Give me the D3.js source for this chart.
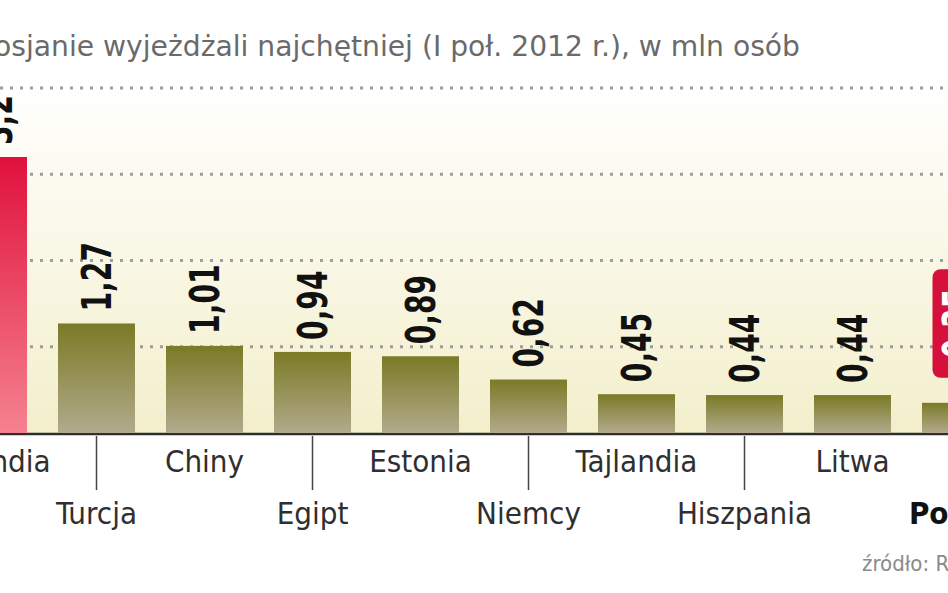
<!DOCTYPE html>
<html><head><meta charset="utf-8">
<script src="https://cdn.jsdelivr.net/npm/d3@7"></script>
<style>
html,body{margin:0;padding:0;background:#fff;overflow:hidden;}
svg{display:block;}
</style></head>
<body>
<svg id="chart" width="948" height="593"></svg>
<script>
const categories = ["Finlandia","Turcja","Chiny","Egipt","Estonia","Niemcy","Tajlandia","Hiszpania","Litwa","Polska"];
const values = [3.2,1.27,1.01,0.94,0.89,0.62,0.45,0.44,0.44,0.35];
const valueLabels = ["3,2","1,27","1,01","0,94","0,89","0,62","0,45","0,44","0,44","0,35"];
const gridTicks = [1,2,3,4];
const title = "Gdzie Rosjanie wyjeżdżali najchętniej (I poł. 2012 r.), w mln osób";
const source = "źródło: Rosstat";
const highlightRed = "Finlandia";
const highlightBox = "Polska";

const W = 948, H = 593;
const svg = d3.select("#chart");
const defs = svg.append("defs");

const bg = defs.append("linearGradient").attr("id","bg").attr("x1",0).attr("y1",0).attr("x2",0).attr("y2",1);
bg.append("stop").attr("offset","0%").attr("stop-color","#ffffff");
bg.append("stop").attr("offset","100%").attr("stop-color","#f3efcc");

const olive = defs.append("linearGradient").attr("id","olive").attr("x1",0).attr("y1",0).attr("x2",0).attr("y2",1);
olive.append("stop").attr("offset","0%").attr("stop-color","#7b7a26");
olive.append("stop").attr("offset","100%").attr("stop-color","#b2aa8c");

const red = defs.append("linearGradient").attr("id","red").attr("x1",0).attr("y1",0).attr("x2",0).attr("y2",1);
red.append("stop").attr("offset","0%").attr("stop-color","#e0113d");
red.append("stop").attr("offset","100%").attr("stop-color","#f5828f");

const y = d3.scaleLinear().domain([0,4]).range([433,88]);
const x = d3.scaleBand().domain(categories).range([-65.5,1014.5]).paddingInner(0.287).paddingOuter(0.1435);

const condFont = '"DejaVu Sans Condensed","DejaVu Sans",sans-serif';
const sansFont = '"DejaVu Sans",sans-serif';

// background
svg.append("rect").attr("x",0).attr("y",y(4)-8).attr("width",W).attr("height",y(0)-y(4)+8).attr("fill","url(#bg)");

// title
svg.append("text").attr("x",800).attr("y",56).attr("text-anchor","end")
  .attr("font-family",sansFont).attr("font-size",28.2).attr("fill","#6a6a6a")
  .text(title);

// gridlines
svg.append("g").selectAll("line").data(gridTicks).join("line")
  .attr("x1",0).attr("x2",W).attr("y1",d=>y(d)).attr("y2",d=>y(d))
  .attr("stroke","#9d9d9d").attr("stroke-width",3).attr("stroke-dasharray","3,7");

// baseline
svg.append("line").attr("x1",0).attr("x2",W).attr("y1",y(0)+1).attr("y2",y(0)+1)
  .attr("stroke","#2e2e2e").attr("stroke-width",2.5);

// bars
svg.append("g").selectAll("rect").data(categories).join("rect")
  .attr("x",d=>x(d)).attr("width",x.bandwidth())
  .attr("y",(d,i)=>y(values[i])).attr("height",(d,i)=>y(0)-y(values[i]))
  .attr("fill",d=>d===highlightRed?"url(#red)":"url(#olive)");

// value labels (rotated, condensed look via scaling)
const lab = svg.append("g");
categories.forEach((c,i)=>{
  const cx = x(c)+x.bandwidth()/2;
  if (c===highlightBox){
    const top = y(1.9), bot = y(0.64);
    lab.append("rect").attr("x",cx-28).attr("y",top).attr("width",56).attr("height",bot-top)
      .attr("rx",8).attr("fill","#d5103a");
    lab.append("text").attr("transform",`translate(${cx+11},${(top+bot)/2}) rotate(-90) scale(0.92,1.2)`)
      .attr("text-anchor","middle").attr("font-family",condFont).attr("font-weight","bold")
      .attr("font-size",34).attr("fill","#fff").text(valueLabels[i]);
  } else {
    const yy = y(values[i]) - 12;
    const dx = c===highlightRed ? 9 : 0;
    lab.append("text").attr("transform",`translate(${cx+dx+14},${yy}) rotate(-90) scale(0.92,1.2)`)
      .attr("text-anchor","start").attr("font-family",condFont).attr("font-weight","bold")
      .attr("font-size",34).attr("fill","#111").text(valueLabels[i]);
  }
});

// category labels, alternating rows
const cl = svg.append("g");
categories.forEach((c,i)=>{
  const cx = x(c)+x.bandwidth()/2;
  const row2 = i%2===1;
  if (row2){
    cl.append("line").attr("x1",cx).attr("x2",cx).attr("y1",y(0)+3).attr("y2",490)
      .attr("stroke","#444").attr("stroke-width",1.5);
  }
  cl.append("text").attr("x",cx).attr("y",row2?524:472).attr("text-anchor","middle")
    .attr("font-family",condFont).attr("font-size",31)
    .attr("font-weight",c===highlightBox?"bold":"normal")
    .attr("fill",c===highlightBox?"#111":"#2f2f2f").text(c);
});

// source
svg.append("text").attr("x",862).attr("y",571).attr("font-family",condFont)
  .attr("font-size",22).attr("fill","#8a8a8a").text(source);
</script>
</body></html>
